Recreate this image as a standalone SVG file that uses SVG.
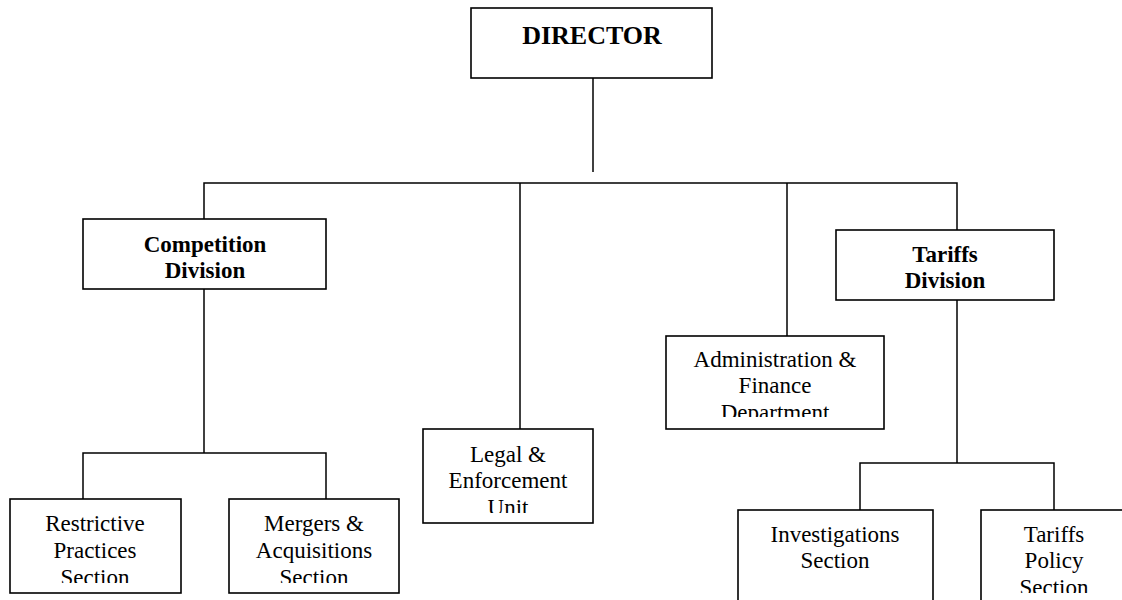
<svg xmlns="http://www.w3.org/2000/svg" width="1122" height="600" viewBox="0 0 1122 600">
<style>
.box{fill:#fff;stroke:#000;stroke-width:1.6}
.ln{fill:none;stroke:#000;stroke-width:1.5}
text{font-family:"Liberation Serif","Times New Roman",serif;font-size:23px;text-anchor:middle;fill:#000}
.b{font-weight:bold}
</style>
<defs>
<clipPath id="cRes"><rect x="10" y="499" width="171" height="84"/></clipPath>
<clipPath id="cMer"><rect x="229" y="499" width="170" height="84"/></clipPath>
<clipPath id="cLeg"><rect x="423" y="429" width="170" height="84"/></clipPath>
<clipPath id="cAdm"><rect x="666" y="336" width="218" height="81"/></clipPath>
<clipPath id="cPol"><rect x="981" y="510" width="146" height="83"/></clipPath>
</defs>
<rect width="1122" height="600" fill="#fff"/>
<g id="connectors">
<path class="ln" d="M593 78V172"/>
<path class="ln" d="M204 219V183H957V230"/>
<path class="ln" d="M520 183V429"/>
<path class="ln" d="M787 183V336"/>
<path class="ln" d="M204 289V453"/>
<path class="ln" d="M83 499V453H326V499"/>
<path class="ln" d="M957 300V463"/>
<path class="ln" d="M860 510V463H1054V510"/>
</g>
<g id="director">
<rect class="box" x="471" y="8" width="241" height="70"/>
<text class="b" x="592" y="44" style="font-size:26px">DIRECTOR</text>
</g>
<g id="competition">
<rect class="box" x="83" y="219" width="243" height="70"/>
<text class="b" x="205" y="252">Competition</text>
<text class="b" x="205" y="278">Division</text>
</g>
<g id="tariffs">
<rect class="box" x="836" y="230" width="218" height="70"/>
<text class="b" x="945" y="262">Tariffs</text>
<text class="b" x="945" y="288">Division</text>
</g>
<g id="admin">
<rect class="box" x="666" y="336" width="218" height="93"/>
<g clip-path="url(#cAdm)">
<text x="775" y="367">Administration &amp;</text>
<text x="775" y="393">Finance</text>
<text x="775" y="420">Department</text>
</g>
</g>
<g id="legal">
<rect class="box" x="423" y="429" width="170" height="94"/>
<g clip-path="url(#cLeg)">
<text x="508" y="462">Legal &amp;</text>
<text x="508" y="488">Enforcement</text>
<text x="508" y="515">Unit</text>
</g>
</g>
<g id="restrictive">
<rect class="box" x="10" y="499" width="171" height="94"/>
<g clip-path="url(#cRes)">
<text x="95" y="531">Restrictive</text>
<text x="95" y="558">Practices</text>
<text x="95" y="585">Section</text>
</g>
</g>
<g id="mergers">
<rect class="box" x="229" y="499" width="170" height="94"/>
<g clip-path="url(#cMer)">
<text x="314" y="531">Mergers &amp;</text>
<text x="314" y="558">Acquisitions</text>
<text x="314" y="585">Section</text>
</g>
</g>
<g id="investigations">
<rect class="box" x="738" y="510" width="195" height="110"/>
<text x="835" y="542">Investigations</text>
<text x="835" y="568">Section</text>
</g>
<g id="policy">
<rect class="box" x="981" y="510" width="146" height="110"/>
<g clip-path="url(#cPol)">
<text x="1054" y="542">Tariffs</text>
<text x="1054" y="568">Policy</text>
<text x="1054" y="595">Section</text>
</g>
</g>
</svg>
